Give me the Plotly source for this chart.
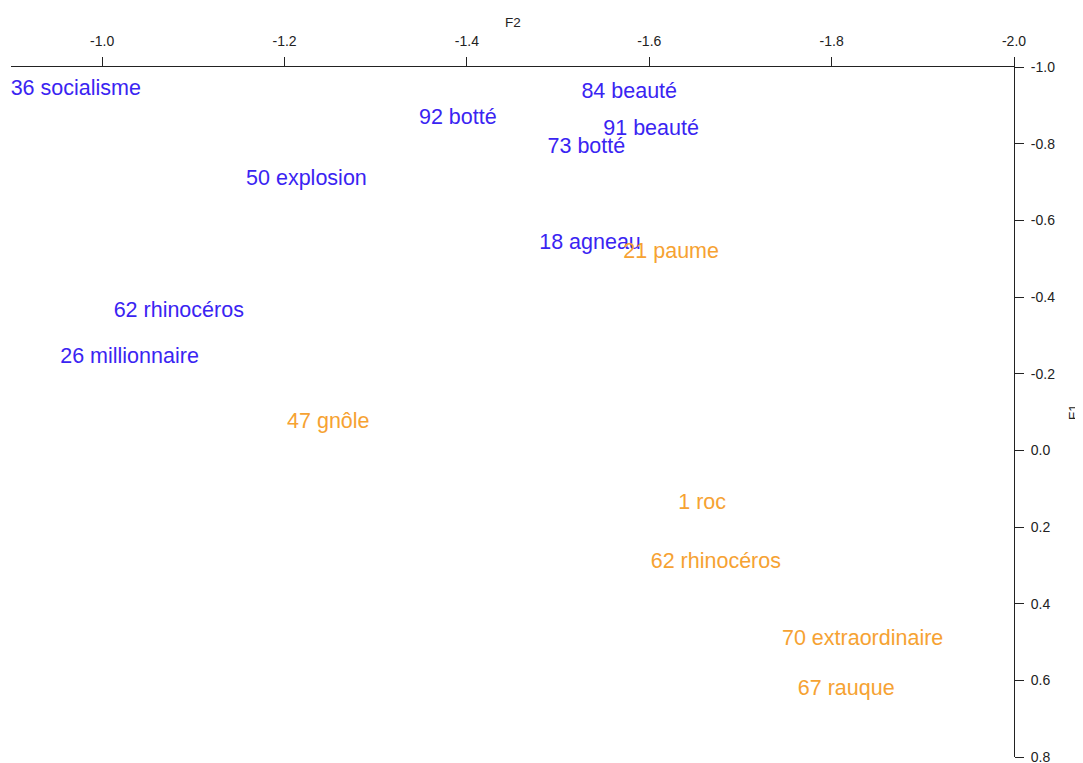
import plotly.graph_objects as go

# Data (F2 on x, F1 on y)
blue_labels = ["36 socialisme", "84 beauté", "92 botté", "91 beauté", "73 botté",
               "50 explosion", "18 agneau", "62 rhinocéros", "26 millionnaire"]
blue_f2 = [-0.971, -1.578, -1.390, -1.602, -1.531, -1.224, -1.535, -1.084, -1.030]
blue_f1 = [-0.948, -0.939, -0.871, -0.843, -0.797, -0.714, -0.545, -0.369, -0.249]

orange_labels = ["21 paume", "47 gnôle", "1 roc", "62 rhinocéros",
                 "70 extraordinaire", "67 rauque"]
orange_f2 = [-1.624, -1.248, -1.658, -1.673, -1.834, -1.816]
orange_f1 = [-0.523, -0.078, 0.133, 0.286, 0.488, 0.618]

x_ticks = [-1.0, -1.2, -1.4, -1.6, -1.8, -2.0]
y_ticks = [-1.0, -0.8, -0.6, -0.4, -0.2, 0.0, 0.2, 0.4, 0.6, 0.8]

y_range = [0.8, -1.0]
# Plotly centres text a little higher than R does; the text traces use an
# overlaid hidden axis whose range is nudged by ~2.5 px to compensate.
text_nudge = 0.0065

BLUE = "#3a24f2"
ORANGE = "#f6a232"
FONT = "Liberation Sans, Arial, sans-serif"
INK = "#222222"

fig = go.Figure()
# empty trace so that the visible primary y axis is drawn
fig.add_trace(go.Scatter(x=[None], y=[None], mode="markers", yaxis="y",
                         hoverinfo="skip", showlegend=False))
fig.add_trace(go.Scatter(x=blue_f2, y=blue_f1, text=blue_labels, mode="text",
                         textposition="middle center", yaxis="y2",
                         textfont=dict(color=BLUE, size=21.5, family=FONT),
                         hoverinfo="skip", showlegend=False, cliponaxis=False))
fig.add_trace(go.Scatter(x=orange_f2, y=orange_f1, text=orange_labels, mode="text",
                         textposition="middle center", yaxis="y2",
                         textfont=dict(color=ORANGE, size=21.5, family=FONT),
                         hoverinfo="skip", showlegend=False, cliponaxis=False))

# The page body has an 8px default margin; margins below compensate for it.
fig.update_layout(
    width=1075, height=760, autosize=False,
    margin=dict(l=3, r=69, t=59, b=11, pad=0),
    plot_bgcolor="white", paper_bgcolor="white",
    font=dict(family=FONT, color=INK),
    xaxis=dict(
        side="top", range=[-0.9, -2.0], showgrid=False, zeroline=False,
        automargin=False,
        showline=True, linecolor=INK, linewidth=1,
        ticks="outside", ticklen=9, tickcolor=INK, tickwidth=1,
        tickvals=x_ticks, ticktext=[f"{v:.1f}" for v in x_ticks],
        tickfont=dict(size=14, family=FONT, color=INK),
        ticklabelstandoff=5, ticklabeloverflow="allow",
    ),
    yaxis=dict(
        side="right", range=y_range, showgrid=False, zeroline=False,
        automargin=False,
        showline=True, linecolor=INK, linewidth=1,
        ticks="outside", ticklen=9, tickcolor=INK, tickwidth=1,
        tickvals=y_ticks, ticktext=[f"{v:.1f}" for v in y_ticks],
        tickfont=dict(size=14, family=FONT, color=INK),
        ticklabelstandoff=4, ticklabeloverflow="allow",
    ),
    yaxis2=dict(
        overlaying="y", side="right", visible=False, automargin=False,
        range=[y_range[0] - text_nudge, y_range[1] - text_nudge],
        showgrid=False, zeroline=False,
    ),
    annotations=[
        dict(text="F2", xref="paper", yref="paper", x=0.5, y=1.0638,
             showarrow=False, xanchor="center", yanchor="middle",
             font=dict(size=13.5, family=FONT, color=INK)),
        dict(text="F1", xref="paper", yref="paper", x=1.0588, y=0.5,
             showarrow=False, xanchor="center", yanchor="middle", textangle=-90,
             font=dict(size=13.5, family=FONT, color=INK)),
    ],
)

fig.write_html("out.html")
